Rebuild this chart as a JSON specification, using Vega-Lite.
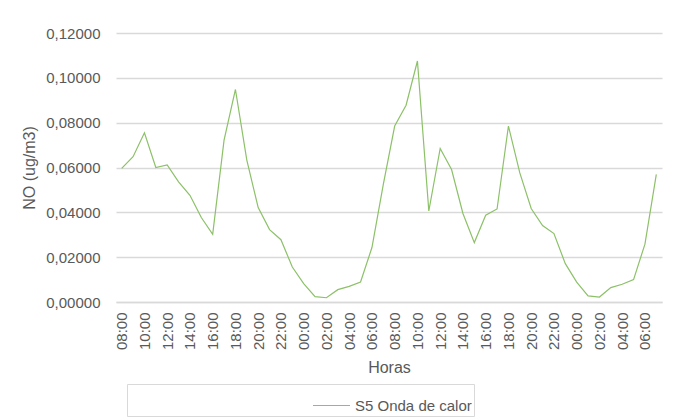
{
  "$schema": "https://vega.github.io/schema/vega-lite/v6.json",
  "width": 546,
  "height": 269,
  "autosize": {"type": "none"},
  "padding": {"left": 116, "top": 33, "right": 24, "bottom": 117},
  "background": "white",
  "config": {
    "view": {"stroke": null},
    "font": "Liberation Sans",
    "axis": {"labelColor": "#595959", "titleColor": "#595959", "labelFont": "Liberation Sans", "titleFont": "Liberation Sans", "titleFontWeight": "normal"},
    "legend": {"labelColor": "#595959", "labelFont": "Liberation Sans"}
  },
  "data": {"values": [
    {"hora": "1 08:00", "no": 0.0596, "serie": "S5 Onda de calor"},
    {"hora": "1 09:00", "no": 0.0648, "serie": "S5 Onda de calor"},
    {"hora": "1 10:00", "no": 0.0755, "serie": "S5 Onda de calor"},
    {"hora": "1 11:00", "no": 0.0600, "serie": "S5 Onda de calor"},
    {"hora": "1 12:00", "no": 0.0612, "serie": "S5 Onda de calor"},
    {"hora": "1 13:00", "no": 0.0536, "serie": "S5 Onda de calor"},
    {"hora": "1 14:00", "no": 0.0476, "serie": "S5 Onda de calor"},
    {"hora": "1 15:00", "no": 0.0377, "serie": "S5 Onda de calor"},
    {"hora": "1 16:00", "no": 0.0302, "serie": "S5 Onda de calor"},
    {"hora": "1 17:00", "no": 0.0722, "serie": "S5 Onda de calor"},
    {"hora": "1 18:00", "no": 0.0948, "serie": "S5 Onda de calor"},
    {"hora": "1 19:00", "no": 0.0633, "serie": "S5 Onda de calor"},
    {"hora": "1 20:00", "no": 0.0421, "serie": "S5 Onda de calor"},
    {"hora": "1 21:00", "no": 0.0323, "serie": "S5 Onda de calor"},
    {"hora": "1 22:00", "no": 0.0278, "serie": "S5 Onda de calor"},
    {"hora": "1 23:00", "no": 0.0156, "serie": "S5 Onda de calor"},
    {"hora": "2 00:00", "no": 0.0082, "serie": "S5 Onda de calor"},
    {"hora": "2 01:00", "no": 0.0024, "serie": "S5 Onda de calor"},
    {"hora": "2 02:00", "no": 0.0019, "serie": "S5 Onda de calor"},
    {"hora": "2 03:00", "no": 0.0055, "serie": "S5 Onda de calor"},
    {"hora": "2 04:00", "no": 0.0070, "serie": "S5 Onda de calor"},
    {"hora": "2 05:00", "no": 0.0089, "serie": "S5 Onda de calor"},
    {"hora": "2 06:00", "no": 0.0243, "serie": "S5 Onda de calor"},
    {"hora": "2 07:00", "no": 0.0525, "serie": "S5 Onda de calor"},
    {"hora": "2 08:00", "no": 0.0785, "serie": "S5 Onda de calor"},
    {"hora": "2 09:00", "no": 0.0878, "serie": "S5 Onda de calor"},
    {"hora": "2 10:00", "no": 0.1075, "serie": "S5 Onda de calor"},
    {"hora": "2 11:00", "no": 0.0406, "serie": "S5 Onda de calor"},
    {"hora": "2 12:00", "no": 0.0685, "serie": "S5 Onda de calor"},
    {"hora": "2 13:00", "no": 0.0591, "serie": "S5 Onda de calor"},
    {"hora": "2 14:00", "no": 0.0395, "serie": "S5 Onda de calor"},
    {"hora": "2 15:00", "no": 0.0265, "serie": "S5 Onda de calor"},
    {"hora": "2 16:00", "no": 0.0387, "serie": "S5 Onda de calor"},
    {"hora": "2 17:00", "no": 0.0415, "serie": "S5 Onda de calor"},
    {"hora": "2 18:00", "no": 0.0785, "serie": "S5 Onda de calor"},
    {"hora": "2 19:00", "no": 0.0576, "serie": "S5 Onda de calor"},
    {"hora": "2 20:00", "no": 0.0417, "serie": "S5 Onda de calor"},
    {"hora": "2 21:00", "no": 0.0341, "serie": "S5 Onda de calor"},
    {"hora": "2 22:00", "no": 0.0305, "serie": "S5 Onda de calor"},
    {"hora": "2 23:00", "no": 0.0171, "serie": "S5 Onda de calor"},
    {"hora": "3 00:00", "no": 0.0089, "serie": "S5 Onda de calor"},
    {"hora": "3 01:00", "no": 0.0027, "serie": "S5 Onda de calor"},
    {"hora": "3 02:00", "no": 0.0022, "serie": "S5 Onda de calor"},
    {"hora": "3 03:00", "no": 0.0064, "serie": "S5 Onda de calor"},
    {"hora": "3 04:00", "no": 0.0079, "serie": "S5 Onda de calor"},
    {"hora": "3 05:00", "no": 0.0100, "serie": "S5 Onda de calor"},
    {"hora": "3 06:00", "no": 0.0258, "serie": "S5 Onda de calor"},
    {"hora": "3 07:00", "no": 0.0569, "serie": "S5 Onda de calor"}
  ]},
  "mark": {"type": "line", "strokeWidth": 1.2},
  "encoding": {
    "x": {
      "field": "hora", "type": "ordinal", "sort": null,
      "scale": {"type": "point", "padding": 0.5},
      "axis": {
        "title": "Horas", "titleFontSize": 16, "titlePadding": 10,
        "values": ["1 08:00","1 10:00","1 12:00","1 14:00","1 16:00","1 18:00","1 20:00","1 22:00","2 00:00","2 02:00","2 04:00","2 06:00","2 08:00","2 10:00","2 12:00","2 14:00","2 16:00","2 18:00","2 20:00","2 22:00","3 00:00","3 02:00","3 04:00","3 06:00"],
        "labelExpr": "slice(datum.label, 2)",
        "labelAngle": -90, "labelFontSize": 15, "labelPadding": 10,
        "ticks": false, "domainColor": "#d9d9d9", "domainWidth": 1.5, "grid": false
      }
    },
    "y": {
      "field": "no", "type": "quantitative",
      "scale": {"domain": [0, 0.12], "nice": false},
      "axis": {
        "title": "NO (ug/m3)", "titleFontSize": 16, "titlePadding": 8,
        "values": [0, 0.02, 0.04, 0.06, 0.08, 0.1, 0.12],
        "labelExpr": "replace(format(datum.value, '.5f'), '.', ',')",
        "labelFontSize": 15, "labelPadding": 16,
        "ticks": false, "domain": false, "gridColor": "#d9d9d9", "gridWidth": 1.5
      }
    },
    "color": {
      "field": "serie", "type": "nominal",
      "scale": {"range": ["#8cc168"]},
      "legend": {
        "title": null, "orient": "none", "legendX": 11, "legendY": 351,
        "symbolType": "stroke", "symbolSize": 1369, "symbolStrokeWidth": 1.2,
        "symbolOffset": 183,
        "labelFontSize": 15, "strokeColor": "#d9d9d9", "fillColor": "white", "padding": 2
      }
    }
  }
}
